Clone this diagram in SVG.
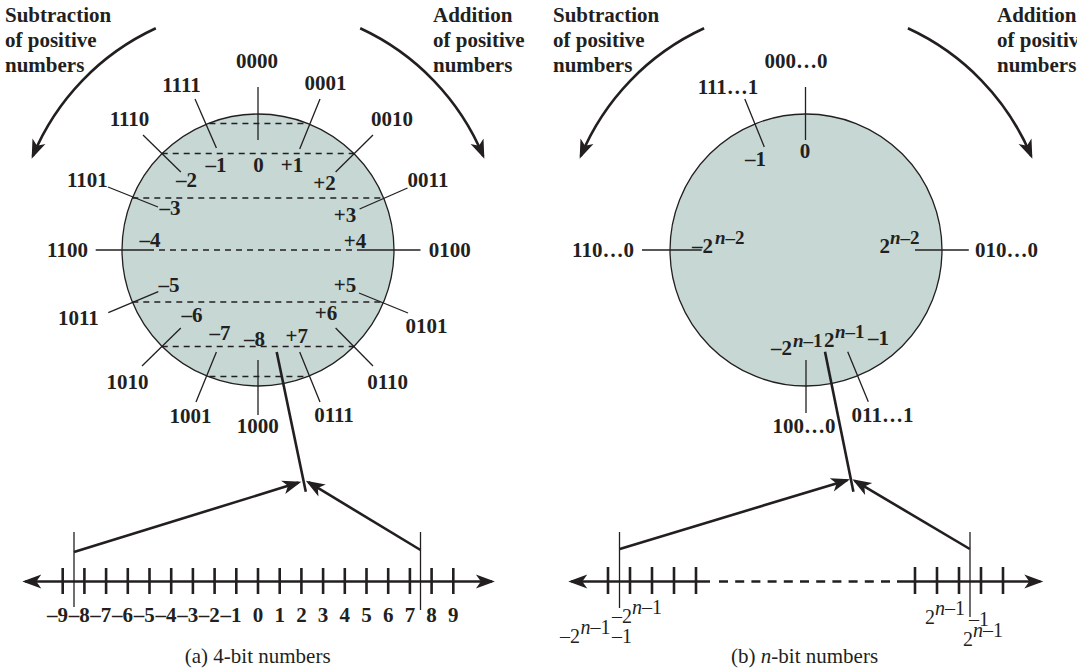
<svg xmlns="http://www.w3.org/2000/svg" width="1077" height="670" viewBox="0 0 1077 670">
<style>
.lb{font-family:"Liberation Serif","Times New Roman",serif;font-weight:bold;font-size:21px;fill:#231f20}
.sup{font-size:19px}
.rg{font-family:"Liberation Serif","Times New Roman",serif;font-size:20px;fill:#231f20}
.cap{font-family:"Liberation Serif","Times New Roman",serif;font-size:21px;fill:#231f20;text-anchor:middle}
.m{text-anchor:middle}
.e{text-anchor:end}
.it{font-style:italic}
.thin{stroke:#231f20;stroke-width:1.3;fill:none}
.thick{stroke:#231f20;stroke-width:2.6;fill:none}
.dash{stroke:#231f20;stroke-width:1.3;stroke-dasharray:6 5;fill:none}
.ndash{stroke:#231f20;stroke-width:2.6;stroke-dasharray:9 7.2;fill:none}
.circ{fill:#c6d7d4;stroke:#231f20;stroke-width:1.3}
</style>
<defs>
<marker id="ah" viewBox="-20 -9 24 18" refX="0" refY="0" markerWidth="24" markerHeight="18" markerUnits="userSpaceOnUse" orient="auto-start-reverse">
<path d="M3,0 L-16,-7 L-11,0 L-16,7 Z" fill="#231f20"/>
</marker>
</defs>

<!-- ================= Panel (a) ================= -->
<g id="panel-a">
<circle id="circle-a" class="circ" cx="258" cy="250" r="136"/>
<g id="chords-a">
<line class="dash" x1="209.4" y1="123.5" x2="306.6" y2="123.5"/>
<line class="dash" x1="161.7" y1="153.5" x2="354.3" y2="153.5"/>
<line class="dash" x1="132.3" y1="198" x2="383.7" y2="198"/>
<line class="dash" x1="148" y1="250" x2="361" y2="250"/>
<line class="dash" x1="132.3" y1="302" x2="383.7" y2="302"/>
<line class="dash" x1="161.7" y1="346.5" x2="354.3" y2="346.5"/>
<line class="dash" x1="209.4" y1="376.5" x2="306.6" y2="376.5"/>
</g>
<g id="leaders-a">
<line class="thin" x1="258" y1="87" x2="258" y2="140"/>
<line class="thin" x1="195" y1="99" x2="216.4" y2="148"/>
<line class="thin" x1="320" y1="99" x2="299.7" y2="149"/>
<line class="thin" x1="143" y1="135" x2="180.8" y2="172"/>
<line class="thin" x1="373" y1="135" x2="335.6" y2="172"/>
<line class="thin" x1="108" y1="187" x2="158" y2="207"/>
<line class="thin" x1="407.5" y1="188" x2="359.6" y2="209"/>
<line class="thin" x1="95.7" y1="250" x2="148" y2="250"/>
<line class="thin" x1="361" y1="250" x2="420.5" y2="250"/>
<line class="thin" x1="108.3" y1="312.7" x2="158.3" y2="291.7"/>
<line class="thin" x1="408" y1="313" x2="359" y2="293"/>
<line class="thin" x1="142" y1="366" x2="180.8" y2="328"/>
<line class="thin" x1="373" y1="366" x2="335.6" y2="328"/>
<line class="thin" x1="196" y1="402" x2="216.4" y2="352"/>
<line class="thin" x1="258" y1="360" x2="258" y2="415"/>
<line class="thin" x1="320" y1="402" x2="299.7" y2="352"/>
</g>
<g id="codes-a" class="lb m">
<text x="257" y="68">0000</text>
<text x="181.5" y="92">1111</text>
<text x="325.5" y="90">0001</text>
<text x="129.5" y="126">1110</text>
<text x="392" y="126">0010</text>
<text x="87.4" y="187">1101</text>
<text x="428" y="187">0011</text>
<text x="67.5" y="257">1100</text>
<text x="449.7" y="257">0100</text>
<text x="78.3" y="325">1011</text>
<text x="426.4" y="333">0101</text>
<text x="127.4" y="389">1010</text>
<text x="387.7" y="389">0110</text>
<text x="190.4" y="423">1001</text>
<text x="257.7" y="433">1000</text>
<text x="334" y="422">0111</text>
</g>
<g id="values-a" class="lb m">
<text x="216" y="172">–1</text>
<text x="258.6" y="172">0</text>
<text x="292" y="172">+1</text>
<text x="186.6" y="187">–2</text>
<text x="324.5" y="190">+2</text>
<text x="170" y="215">–3</text>
<text x="345" y="222">+3</text>
<text x="150" y="247">–4</text>
<text x="355" y="248">+4</text>
<text x="169" y="292">–5</text>
<text x="345" y="292">+5</text>
<text x="192" y="322">–6</text>
<text x="326" y="320">+6</text>
<text x="220" y="340">–7</text>
<text x="254.6" y="346">–8</text>
<text x="296.7" y="343">+7</text>
</g>
<g id="title-sub-a" class="lb">
<text x="5" y="22">Subtraction</text>
<text x="5" y="47">of positive</text>
<text x="5" y="72">numbers</text>
</g>
<g id="title-add-a" class="lb">
<text x="433" y="22">Addition</text>
<text x="433" y="47">of positive</text>
<text x="433" y="72">numbers</text>
</g>
<g id="numberline-a">
<line class="thick" x1="25.3" y1="581.5" x2="491.9" y2="581.5" marker-start="url(#ah)" marker-end="url(#ah)"/>
<path class="thick" d="M62.7,568V594M84.4,568V594M106.1,568V594M127.8,568V594M149.5,568V594M171.2,568V594M192.9,568V594M214.6,568V594M236.3,568V594M258,568V594M279.7,568V594M301.4,568V594M323.1,568V594M344.8,568V594M366.5,568V594M388.2,568V594M409.9,568V594M431.6,568V594M453.3,568V594"/>
<line class="thin" x1="74" y1="532" x2="74" y2="607"/>
<line class="thin" x1="420.5" y1="532" x2="420.5" y2="610"/>
<g class="lb">
<text class="e" x="67.95" y="621.5">–9</text>
<text class="e" x="89.65" y="621.5">–8</text>
<text class="e" x="111.35" y="621.5">–7</text>
<text class="e" x="133.05" y="621.5">–6</text>
<text class="e" x="154.75" y="621.5">–5</text>
<text class="e" x="176.45" y="621.5">–4</text>
<text class="e" x="198.15" y="621.5">–3</text>
<text class="e" x="219.85" y="621.5">–2</text>
<text class="e" x="241.55" y="621.5">–1</text>
<text class="m" x="258" y="621.5">0</text>
<text class="m" x="279.7" y="621.5">1</text>
<text class="m" x="301.4" y="621.5">2</text>
<text class="m" x="323.1" y="621.5">3</text>
<text class="m" x="344.8" y="621.5">4</text>
<text class="m" x="366.5" y="621.5">5</text>
<text class="m" x="388.2" y="621.5">6</text>
<text class="m" x="409.9" y="621.5">7</text>
<text class="m" x="431.6" y="621.5">8</text>
<text class="m" x="453.3" y="621.5">9</text>
</g>
</g>
<text id="caption-a" class="cap" x="257.7" y="663">(a) 4-bit numbers</text>
</g>

<!-- ================= Panel (b) ================= -->
<g id="panel-b">
<circle id="circle-b" class="circ" cx="806" cy="250" r="136"/>
<g id="leaders-b">
<line class="thin" x1="805.5" y1="87" x2="805.5" y2="140"/>
<line class="thin" x1="744.8" y1="99" x2="764.3" y2="147"/>
<line class="thin" x1="642" y1="250" x2="701.7" y2="250"/>
<line class="thin" x1="915" y1="250" x2="968.8" y2="250"/>
<line class="thin" x1="806" y1="360" x2="806" y2="413"/>
<line class="thin" x1="847.7" y1="351.7" x2="868.3" y2="401.7"/>
</g>
<g id="codes-b" class="lb m">
<text x="796" y="68">000…0</text>
<text x="728" y="94">111…1</text>
<text x="603" y="257">110…0</text>
<text x="1006.6" y="257">010…0</text>
<text x="804" y="433">100…0</text>
<text x="882.5" y="422">011…1</text>
</g>
<g id="values-b" class="lb">
<text class="m" x="755.5" y="166">–1</text>
<text class="m" x="805" y="158">0</text>
<text class="e" x="713" y="253">–2</text>
<text class="sup" x="715" y="244"><tspan class="it">n</tspan>–2</text>
<text class="e" x="890" y="253">2</text>
<text class="sup" x="890" y="244"><tspan class="it">n</tspan>–2</text>
<text class="e" x="792" y="355">–2</text>
<text class="sup" x="793" y="347"><tspan class="it">n</tspan>–1</text>
<text x="824" y="347">2</text>
<text class="sup" x="835" y="338"><tspan class="it">n</tspan>–1</text>
<text x="868" y="345">–1</text>
</g>
<g id="title-sub-b" class="lb">
<text x="553" y="22">Subtraction</text>
<text x="553" y="47">of positive</text>
<text x="553" y="72">numbers</text>
</g>
<g id="title-add-b" class="lb">
<text x="997" y="22">Addition</text>
<text x="997" y="47">of positive</text>
<text x="997" y="72">numbers</text>
</g>
<g id="numberline-b">
<line class="thick" x1="571.3" y1="581.5" x2="710" y2="581.5" marker-start="url(#ah)"/>
<line class="ndash" x1="719" y1="581.5" x2="890" y2="581.5"/>
<line class="thick" x1="897" y1="581.5" x2="1040.3" y2="581.5" marker-end="url(#ah)"/>
<path class="thick" d="M608,567V594M630,567V594M652,567V594M674,567V594M696,567V594M915,567V594M937,567V594M959,567V594M981,567V594M1003,567V594"/>
<line class="thin" x1="619.5" y1="532" x2="619.5" y2="608"/>
<line class="thin" x1="970" y1="532" x2="970" y2="617"/>
<g class="rg">
<text class="e" x="632" y="623">–2</text>
<text x="632" y="614"><tspan class="it">n</tspan>–1</text>
<text x="560" y="643">–2</text>
<text x="580.5" y="634"><tspan class="it">n</tspan>–1</text>
<text x="612" y="643">–1</text>
<text x="925" y="624">2</text>
<text x="935" y="615"><tspan class="it">n</tspan>–1</text>
<text x="969" y="626">–1</text>
<text x="963" y="646">2</text>
<text x="973" y="637"><tspan class="it">n</tspan>–1</text>
</g>
</g>
<text id="caption-b" class="cap" x="804.6" y="663">(b) <tspan class="it">n</tspan>-bit numbers</text>
</g>

<!-- ================= Connectors ================= -->
<g id="connectors">
<path class="thick" d="M155.8,28.3 A244,244 0 0,0 32.8,156" marker-end="url(#ah)"/>
<path class="thick" d="M360.2,28.3 A244,244 0 0,1 483.2,156" marker-end="url(#ah)"/>
<path class="thick" d="M704.1,28.3 A244,244 0 0,0 580.8,156" marker-end="url(#ah)"/>
<path class="thick" d="M907.9,28.3 A244,244 0 0,1 1031.2,156" marker-end="url(#ah)"/>
<line class="thick" x1="276.7" y1="352" x2="305.8" y2="491.7"/>
<line class="thick" x1="825" y1="351.7" x2="853.4" y2="491.7"/>
<line class="thick" x1="74" y1="552" x2="298.5" y2="482.6" marker-end="url(#ah)"/>
<line class="thick" x1="420.5" y1="550" x2="308.4" y2="482.2" marker-end="url(#ah)"/>
<line class="thick" x1="619.8" y1="549" x2="847.1" y2="480.2" marker-end="url(#ah)"/>
<line class="thick" x1="969.8" y1="549" x2="854.9" y2="480.9" marker-end="url(#ah)"/>
</g>
</svg>
